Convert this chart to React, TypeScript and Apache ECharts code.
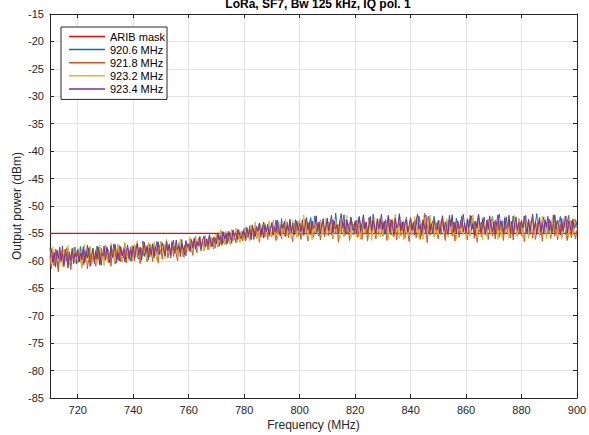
import React, { useEffect, useRef } from "react";
import * as echarts from "echarts";

const titleText = "LoRa, SF7, Bw 125 kHz, IQ pol. 1";
const seriesNames = ["ARIB mask", "920.6 MHz", "921.8 MHz", "923.2 MHz", "923.4 MHz"];
const xTicks = [720, 740, 760, 780, 800, 820, 840, 860, 880, 900];
const startFreq = 710;
const freqStep = 0.5;
const maskFreq = [710, 900];
const maskLevel = [-55, -55];

const s920_6 = [
  -57.6,-60.2,-58.4,-60.9,-57.9,-59.8,-61.3,-58.1,-59.5,-57.3,-60.4,-58.7,-60.0,-57.8,-59.9,-61.0,-58.3,-59.4,-57.5,-60.6,
  -58.2,-60.1,-57.4,-59.6,-60.7,-58.0,-59.3,-57.1,-60.3,-58.6,-59.8,-57.7,-60.5,-58.9,-57.3,-59.7,-58.1,-60.8,-58.4,-59.2,
  -57.2,-59.5,-58.0,-60.2,-57.6,-59.1,-56.9,-58.8,-60.4,-57.4,-59.0,-57.9,-60.1,-58.3,-56.8,-59.6,-57.7,-58.9,-60.0,-57.5,
  -59.4,-57.1,-58.6,-56.7,-59.7,-57.8,-58.9,-56.4,-59.2,-57.6,-58.1,-59.8,-56.9,-58.4,-57.2,-59.5,-57.9,-56.5,-58.8,-57.4,
  -56.6,-58.9,-57.3,-59.2,-56.4,-58.1,-57.0,-59.5,-57.7,-56.2,-58.6,-57.4,-59.0,-56.8,-58.3,-56.1,-58.7,-57.2,-59.1,-56.9,
  -57.8,-56.0,-58.4,-56.7,-57.5,-55.6,-58.0,-56.9,-55.8,-57.6,-56.3,-58.1,-55.5,-57.2,-56.6,-55.2,-57.4,-56.1,-57.8,-55.7,
  -56.9,-55.1,-57.3,-55.8,-54.6,-56.7,-55.4,-57.0,-54.9,-56.2,-55.0,-56.8,-54.4,-55.9,-56.5,-54.3,-55.7,-56.4,-54.8,-55.6,
  -54.1,-56.3,-54.9,-55.8,-53.6,-55.4,-54.0,-56.1,-53.8,-55.2,-54.5,-53.1,-55.7,-54.2,-52.9,-55.0,-54.6,-53.3,-55.5,-53.9,
  -53.2,-55.3,-54.0,-52.6,-55.1,-53.5,-54.7,-52.3,-54.9,-53.7,-55.6,-53.0,-54.4,-52.8,-55.2,-53.6,-54.1,-52.5,-55.0,-53.4,
  -52.7,-54.8,-53.3,-55.4,-52.4,-54.2,-53.0,-55.1,-52.1,-54.5,-53.6,-51.8,-54.9,-53.2,-55.5,-52.6,-54.0,-52.9,-55.2,-53.5,
  -52.2,-54.6,-53.0,-55.3,-52.5,-54.1,-51.3,-53.8,-55.0,-52.7,-54.4,-53.1,-51.6,-54.8,-52.9,-55.2,-53.4,-52.0,-54.5,-53.3,
  -55.1,-52.6,-54.0,-51.9,-53.7,-55.4,-52.4,-54.3,-53.0,-55.6,-52.1,-53.9,-54.7,-51.5,-53.5,-55.0,-52.8,-54.2,-52.3,-54.9,
  -53.1,-55.2,-52.5,-54.6,-51.7,-53.8,-55.3,-52.7,-54.1,-52.2,-55.0,-53.4,-51.4,-54.5,-52.9,-55.5,-53.2,-52.0,-54.8,-53.6,
  -52.4,-54.7,-53.0,-55.1,-52.6,-54.3,-51.8,-53.9,-55.4,-52.8,-54.2,-51.6,-53.7,-55.0,-52.3,-54.6,-53.3,-51.9,-54.4,-53.0,
  -55.2,-52.7,-54.1,-52.1,-53.8,-55.5,-52.5,-54.4,-51.7,-53.6,-55.1,-52.9,-54.8,-52.2,-53.9,-55.3,-52.6,-54.0,-51.5,-53.7,
  -54.5,-52.3,-55.0,-53.1,-51.8,-54.2,-52.8,-55.4,-53.3,-51.6,-54.7,-52.9,-54.1,-52.0,-55.2,-53.5,-52.4,-54.8,-53.0,-51.9,
  -54.3,-52.6,-55.1,-53.4,-51.5,-54.0,-52.7,-55.3,-53.2,-52.0,-54.6,-52.5,-55.0,-53.7,-51.8,-54.4,-53.0,-55.4,-52.3,-54.1,
  -52.8,-55.0,-53.3,-51.7,-54.5,-52.9,-55.2,-53.6,-52.1,-54.8,-53.1,-51.4,-54.2,-52.6,-55.3,-53.4,-52.0,-54.7,-53.0,-55.1,
  -52.4,-54.3,-53.7,-51.6,-54.9,-52.8,-55.0,-53.2,-51.9,-54.6,-53.5,-52.2,-55.2,-53.0,-51.7,-54.4,-52.7,-55.1,-53.3,-52.5,-54.0,
];

const s921_8 = [
  -59.5,-61.4,-58.3,-60.7,-57.9,-60.0,-62.0,-58.6,-60.3,-58.0,-61.1,-59.2,-57.6,-60.5,-58.8,-61.6,-59.0,-57.8,-60.2,-58.5,
  -60.4,-58.1,-59.7,-61.2,-57.9,-60.0,-58.4,-61.5,-59.1,-57.5,-60.6,-58.7,-59.9,-61.0,-58.2,-59.4,-60.8,-57.7,-59.6,-58.9,
  -59.8,-57.4,-60.3,-58.5,-61.0,-57.9,-59.3,-60.6,-58.1,-59.9,-57.2,-60.2,-58.7,-59.5,-57.8,-60.4,-58.3,-59.0,-57.5,-60.1,
  -58.6,-60.0,-57.3,-59.4,-58.0,-60.5,-57.7,-59.1,-56.9,-58.8,-60.2,-57.6,-59.3,-58.2,-60.1,-57.1,-59.0,-58.4,-60.4,-57.8,
  -58.3,-59.7,-57.0,-58.9,-56.8,-59.5,-57.9,-58.5,-56.6,-59.2,-57.4,-58.7,-60.0,-57.1,-58.4,-56.7,-59.3,-57.7,-58.6,-56.9,
  -58.1,-56.4,-57.8,-59.0,-56.2,-57.6,-58.5,-55.9,-57.3,-58.2,-56.1,-57.9,-55.6,-57.0,-58.0,-56.3,-57.4,-55.8,-56.9,-57.7,
  -56.0,-57.5,-55.4,-56.8,-57.2,-55.1,-56.5,-54.7,-56.9,-55.6,-57.0,-54.9,-56.3,-55.3,-56.7,-54.5,-56.0,-55.7,-54.6,-56.4,
  -55.0,-56.4,-54.3,-55.8,-53.9,-56.2,-54.7,-55.5,-53.6,-55.9,-54.4,-56.6,-54.0,-55.3,-53.5,-55.7,-54.2,-56.1,-53.8,-55.2,
  -55.6,-53.7,-54.9,-56.3,-53.4,-55.1,-54.0,-56.0,-53.2,-55.4,-54.6,-52.9,-55.8,-53.9,-55.0,-56.5,-53.6,-54.8,-53.1,-55.5,
  -54.2,-56.1,-53.4,-55.3,-52.7,-54.8,-56.4,-53.6,-55.0,-53.1,-55.7,-54.3,-52.5,-55.2,-53.8,-56.2,-54.0,-53.0,-55.6,-54.5,
  -53.5,-55.4,-52.9,-54.7,-56.0,-53.3,-55.1,-54.0,-56.6,-53.7,-54.9,-52.6,-55.5,-53.9,-55.0,-53.2,-56.3,-54.4,-53.0,-55.3,
  -54.6,-52.8,-55.7,-53.6,-54.9,-56.1,-53.1,-55.0,-53.9,-56.4,-54.2,-52.4,-55.3,-53.5,-54.8,-56.0,-53.3,-55.2,-54.1,-52.7,
  -55.5,-53.7,-54.6,-56.3,-53.0,-55.1,-54.0,-52.5,-55.6,-53.8,-56.2,-54.3,-53.2,-55.4,-54.7,-52.8,-55.9,-53.6,-54.9,-56.5,
  -53.4,-55.2,-54.1,-52.6,-55.8,-53.9,-54.6,-56.1,-53.1,-55.0,-51.3,-54.4,-56.7,-53.5,-55.3,-54.0,-52.7,-55.6,-53.8,-54.9,
  -56.0,-53.6,-55.2,-52.9,-54.7,-56.3,-53.4,-55.0,-54.2,-52.6,-55.5,-53.9,-56.4,-54.1,-53.0,-55.7,-54.5,-52.8,-55.1,-53.7,
  -54.8,-56.2,-53.3,-55.4,-54.0,-52.5,-55.9,-53.8,-56.6,-54.3,-53.1,-55.6,-54.6,-52.7,-55.2,-53.5,-56.1,-54.2,-53.0,-55.5,
  -53.9,-56.0,-54.4,-52.8,-55.7,-53.6,-54.9,-56.3,-53.2,-55.1,-54.5,-52.4,-55.8,-53.7,-56.2,-54.0,-53.4,-55.5,-54.7,-52.9,
  -55.4,-53.8,-56.5,-54.1,-53.0,-55.6,-54.3,-52.6,-55.9,-53.5,-56.1,-54.6,-53.2,-55.3,-54.0,-56.4,-53.7,-52.9,-55.7,-54.2,
  -53.6,-55.9,-54.4,-52.7,-55.5,-53.9,-56.2,-54.1,-53.3,-55.7,-54.8,-52.8,-55.1,-56.3,-53.5,-54.6,-55.8,-53.2,-54.9,-56.0,-54.3,
];

const s923_2 = [
  -58.0,-60.6,-57.4,-59.8,-61.2,-58.3,-60.1,-57.7,-59.5,-61.0,-57.9,-60.3,-58.6,-57.2,-60.8,-58.9,-59.7,-57.5,-60.4,-58.2,
  -60.0,-57.6,-59.3,-61.1,-58.4,-57.0,-60.2,-58.8,-59.9,-57.3,-60.7,-58.1,-59.4,-57.8,-60.5,-58.5,-57.1,-59.6,-58.7,-60.9,
  -57.3,-59.7,-58.2,-60.4,-56.8,-59.0,-57.6,-60.1,-58.4,-56.9,-59.8,-57.5,-60.2,-58.0,-56.6,-59.3,-57.9,-60.0,-58.6,-57.1,
  -59.6,-57.0,-58.8,-56.3,-59.4,-57.7,-60.1,-56.9,-58.5,-57.4,-59.7,-56.6,-58.9,-57.2,-59.2,-56.5,-58.3,-59.9,-57.1,-58.6,
  -56.4,-58.7,-57.2,-59.6,-56.1,-58.3,-57.6,-59.2,-56.3,-57.9,-58.8,-56.5,-59.0,-57.3,-56.0,-58.5,-57.8,-59.4,-56.7,-58.1,
  -57.9,-55.7,-58.3,-56.4,-57.5,-55.4,-58.0,-56.8,-55.5,-57.7,-56.2,-58.2,-55.3,-57.1,-56.0,-57.9,-55.6,-56.9,-57.6,-55.2,
  -55.2,-57.3,-55.9,-54.3,-56.8,-55.5,-57.1,-54.6,-56.4,-55.0,-56.9,-54.2,-56.1,-55.4,-54.0,-56.6,-55.1,-56.7,-54.5,-55.8,
  -56.2,-53.7,-55.5,-54.2,-56.4,-53.4,-55.1,-54.5,-52.9,-55.7,-54.0,-56.0,-53.3,-54.8,-55.9,-53.0,-55.4,-54.1,-52.7,-55.2,
  -54.6,-52.5,-55.3,-53.8,-56.1,-52.8,-54.5,-55.6,-53.1,-54.9,-52.4,-55.5,-53.6,-54.2,-56.0,-52.6,-54.7,-53.3,-55.8,-53.9,
  -52.3,-55.0,-53.6,-51.6,-54.8,-53.0,-55.7,-52.5,-54.3,-56.2,-53.2,-54.6,-51.9,-55.3,-53.8,-52.7,-55.5,-53.4,-54.9,-52.2,
  -55.4,-53.1,-54.5,-52.0,-55.9,-53.7,-52.4,-54.8,-53.3,-56.0,-52.6,-54.2,-55.6,-53.0,-51.7,-54.7,-53.5,-55.8,-52.8,-54.1,
  -53.0,-55.6,-52.3,-54.4,-56.1,-53.5,-51.8,-54.9,-53.2,-55.4,-52.5,-54.0,-56.3,-53.7,-52.1,-55.0,-53.9,-52.6,-55.7,-54.3,
  -55.2,-52.7,-54.6,-53.1,-56.0,-52.4,-54.2,-55.5,-53.0,-51.5,-54.8,-53.3,-55.9,-52.9,-54.4,-56.2,-53.6,-52.2,-55.3,-53.8,
  -52.9,-55.4,-53.4,-51.9,-54.7,-53.1,-55.8,-52.5,-54.3,-56.1,-53.5,-52.0,-55.0,-53.7,-51.6,-54.9,-53.2,-55.6,-52.7,-54.5,
  -55.3,-52.6,-54.1,-51.8,-55.1,-53.9,-52.3,-55.7,-53.4,-54.8,-52.1,-55.5,-53.0,-56.0,-52.8,-54.6,-53.6,-51.7,-55.2,-53.3,
  -56.0,-53.2,-52.5,-55.4,-53.9,-51.6,-54.7,-53.0,-55.8,-52.7,-54.4,-53.5,-56.2,-52.9,-54.1,-55.5,-52.4,-53.7,-55.0,-52.0,
  -52.6,-54.9,-53.3,-56.1,-52.2,-54.5,-55.6,-53.0,-51.9,-54.3,-53.6,-55.9,-52.8,-54.0,-55.3,-51.7,-53.8,-55.5,-52.5,-54.7,
  -53.5,-55.7,-52.1,-54.2,-53.0,-55.9,-52.7,-54.6,-51.5,-53.9,-55.2,-53.1,-52.4,-55.6,-53.7,-51.8,-54.8,-53.3,-56.0,-52.9,
  -53.1,-55.3,-52.4,-54.7,-51.6,-53.8,-55.5,-52.8,-54.1,-56.1,-53.0,-51.9,-54.6,-53.4,-55.8,-52.6,-54.0,-55.4,-52.3,-53.9,-53.5,
];

const s923_4 = [
  -59.4,-57.8,-60.3,-58.5,-61.0,-58.0,-59.6,-57.5,-60.0,-58.8,-60.7,-57.9,-59.2,-61.3,-58.4,-59.9,-57.7,-60.5,-58.6,-59.3,
  -57.9,-60.2,-58.6,-59.8,-57.4,-60.4,-58.3,-59.5,-57.6,-61.0,-58.9,-57.8,-60.1,-58.2,-59.7,-57.5,-60.6,-58.7,-59.1,-57.3,
  -59.9,-57.6,-58.9,-60.3,-57.2,-59.4,-58.1,-57.0,-59.7,-58.5,-60.0,-57.4,-59.1,-57.8,-60.2,-58.3,-57.1,-59.6,-58.0,-59.2,
  -57.3,-59.5,-57.9,-56.8,-59.0,-57.5,-59.8,-58.1,-56.6,-58.7,-57.2,-59.4,-57.6,-58.9,-56.9,-59.1,-57.4,-58.3,-56.5,-58.8,
  -58.5,-56.7,-57.9,-59.1,-56.4,-58.2,-57.0,-59.0,-56.6,-57.8,-58.6,-56.2,-58.0,-57.3,-59.2,-56.8,-57.6,-58.9,-56.3,-57.5,
  -56.9,-58.3,-56.1,-57.6,-55.8,-57.9,-56.5,-57.2,-55.6,-57.8,-56.3,-55.5,-57.5,-56.0,-57.3,-55.4,-56.7,-57.4,-55.7,-56.6,
  -56.8,-54.9,-56.2,-55.4,-57.0,-54.7,-56.0,-55.1,-56.6,-54.6,-55.8,-56.3,-54.4,-55.6,-54.9,-56.1,-54.3,-55.5,-56.0,-54.6,
  -54.8,-55.9,-53.9,-55.4,-54.2,-56.0,-53.5,-54.9,-55.6,-53.7,-54.6,-53.2,-55.3,-54.0,-55.8,-53.4,-54.7,-53.6,-55.1,-54.3,
  -53.0,-55.2,-53.7,-54.8,-52.6,-54.4,-55.5,-53.3,-54.1,-52.8,-55.0,-53.5,-54.6,-52.4,-54.9,-53.1,-55.3,-53.8,-52.7,-54.5,
  -53.2,-54.7,-52.5,-55.0,-53.6,-52.1,-54.4,-53.0,-55.2,-52.7,-54.1,-53.5,-51.8,-54.6,-52.9,-55.1,-53.3,-52.3,-54.8,-53.7,
  -52.4,-54.5,-53.1,-51.7,-54.9,-52.8,-54.2,-53.4,-55.0,-52.6,-51.4,-54.0,-53.0,-55.2,-52.5,-53.8,-54.7,-52.2,-53.6,-54.4,
  -52.7,-55.0,-53.4,-52.0,-54.6,-53.1,-51.6,-54.2,-52.9,-55.1,-53.5,-51.9,-54.5,-52.6,-53.8,-55.0,-52.3,-54.1,-53.2,-51.5,
  -54.3,-52.8,-55.1,-53.3,-51.8,-54.7,-52.5,-53.9,-55.2,-52.2,-54.0,-53.5,-51.6,-54.6,-52.9,-55.0,-53.1,-52.4,-54.8,-53.6,
  -52.1,-54.4,-53.0,-55.3,-52.7,-51.5,-54.2,-53.4,-55.0,-52.5,-53.8,-54.9,-52.3,-51.9,-54.5,-53.2,-55.1,-52.8,-53.6,-54.3,
  -52.6,-55.0,-53.3,-51.8,-54.6,-52.9,-54.1,-55.2,-52.4,-53.7,-51.6,-54.8,-53.0,-55.1,-52.7,-54.2,-53.5,-51.9,-54.7,-53.1,
  -55.0,-52.5,-53.9,-51.7,-54.4,-53.2,-55.3,-52.8,-54.0,-51.5,-53.6,-54.9,-52.3,-53.8,-55.1,-52.6,-54.3,-51.8,-53.4,-54.7,
  -52.9,-55.2,-53.1,-51.6,-54.5,-52.7,-53.9,-55.0,-52.2,-54.1,-53.5,-51.7,-54.8,-52.8,-55.3,-53.3,-52.0,-54.4,-53.0,-55.1,
  -52.6,-54.0,-51.8,-53.7,-55.0,-52.4,-54.6,-53.2,-51.5,-54.3,-52.9,-55.2,-53.5,-52.1,-54.7,-53.0,-55.1,-52.5,-53.9,-51.9,
  -54.5,-52.8,-55.0,-53.3,-51.7,-54.2,-52.6,-53.8,-55.3,-52.3,-54.6,-53.1,-51.8,-54.9,-52.7,-53.6,-55.0,-52.4,-54.1,-53.4,-52.9,
];

const colors = ["#FF0000", "#0072BD", "#D95319", "#EDB120", "#7E2F8E"];
const FONT = '"Liberation Sans", Arial, Helvetica, sans-serif';
const AX = "#262626";

function toPairs(vals: number[]) {
  return vals.map((v, i) => [startFreq + i * freqStep, v]);
}

export default function App() {
  const ref = useRef<HTMLDivElement>(null);
  useEffect(() => {
    if (!ref.current) return;
    const chart = echarts.init(ref.current, undefined, { renderer: "svg" });
    const traces = [s920_6, s921_8, s923_2, s923_4];
    const xCommon = {
      type: "value",
      min: 710,
      max: 900,
      axisLine: { show: true, onZero: false, lineStyle: { color: AX, width: 1 } },
    };
    const yCommon = {
      type: "value",
      min: -85,
      max: -15,
      interval: 5,
      axisLine: { show: true, onZero: false, lineStyle: { color: AX, width: 1 } },
    };
    chart.setOption({
      animation: false,
      backgroundColor: "#ffffff",
      textStyle: { fontFamily: FONT },
      title: {
        text: titleText,
        left: 313,
        textAlign: "center",
        top: -7,
        textStyle: { fontFamily: FONT, fontSize: 12, fontWeight: "bold", color: "#000" },
      },
      legend: {
        orient: "vertical",
        left: 61,
        top: 27,
        padding: [3, 2, 4, 8],
        itemGap: 0.1,
        itemWidth: 36,
        itemHeight: 1.5,
        icon: "rect",
        backgroundColor: "#ffffff",
        borderColor: AX,
        borderWidth: 1,
        borderRadius: 0,
        textStyle: { fontFamily: FONT, fontSize: 11, lineHeight: 13, color: "#000" },
        data: seriesNames,
      },
      grid: { left: 50, top: 14, width: 527, height: 384, containLabel: false, outerBoundsMode: "none" },
      xAxis: [
        {
          ...xCommon,
          position: "bottom",
          name: "Frequency (MHz)",
          nameLocation: "middle",
          nameGap: 21,
          nameMoveOverlap: false,
          nameTextStyle: { fontFamily: FONT, fontSize: 12, color: AX },
          axisTick: { show: true, inside: true, length: 4, lineStyle: { color: AX }, customValues: xTicks },
          axisLabel: { show: true, fontFamily: FONT, fontSize: 11, color: AX, margin: 6, customValues: xTicks },
          splitLine: { show: true, lineStyle: { color: "#e3e3e3", width: 1 } },
        },
        {
          ...xCommon,
          position: "top",
          axisTick: { show: true, inside: true, length: 4, lineStyle: { color: AX }, customValues: xTicks },
          axisLabel: { show: false },
          splitLine: { show: false },
        },
      ],
      yAxis: [
        {
          ...yCommon,
          position: "left",
          name: "Output power (dBm)",
          nameLocation: "middle",
          nameGap: 27,
          nameMoveOverlap: false,
          nameTextStyle: { fontFamily: FONT, fontSize: 12, color: AX },
          axisTick: { show: true, inside: true, length: 4, lineStyle: { color: AX } },
          axisLabel: { show: true, fontFamily: FONT, fontSize: 11, color: AX, margin: 6 },
          splitLine: { show: true, lineStyle: { color: "#e3e3e3", width: 1 } },
        },
        {
          ...yCommon,
          position: "right",
          axisTick: { show: true, inside: true, length: 4, lineStyle: { color: AX } },
          axisLabel: { show: false },
          splitLine: { show: false },
        },
      ],
      series: [
        {
          name: seriesNames[0],
          type: "line",
          symbol: "none",
          color: colors[0],
          lineStyle: { width: 1.2, color: colors[0] },
          data: maskFreq.map((f, i) => [f, maskLevel[i]]),
        },
        ...traces.map((vals, k) => ({
          name: seriesNames[k + 1],
          type: "line",
          symbol: "none",
          color: colors[k + 1],
          lineStyle: { width: 1, color: colors[k + 1] },
          data: toPairs(vals),
        })),
      ],
    });
    return () => chart.dispose();
  }, []);
  return (
    <div
      ref={ref}
      style={{ position: "fixed", left: 0, top: 0, width: 589, height: 435, background: "#fff" }}
    />
  );
}
